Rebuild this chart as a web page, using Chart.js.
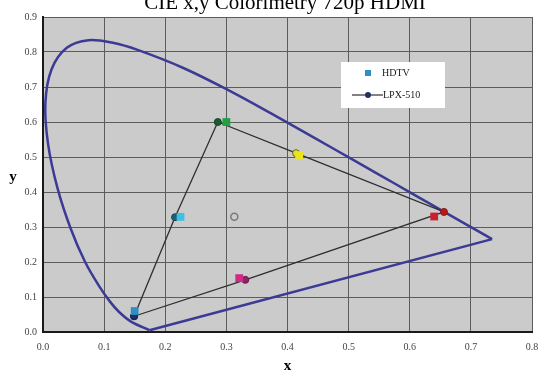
<!DOCTYPE html>
<html>
<head>
<meta charset="utf-8">
<script src="https://cdn.jsdelivr.net/npm/chart.js@4.4.1/dist/chart.umd.min.js"></script>
<style>
  html, body { margin: 0; padding: 0; background: #fff; }
  #wrap { width: 541px; height: 370px; position: relative; }
</style>
</head>
<body>
<div id="wrap"><canvas id="cie" width="541" height="370"></canvas></div>
<script>
// CIE 1931 spectral locus (x, y), 380 nm .. 700 nm
const locusX = [0.1741, 0.1440, 0.1241, 0.1096, 0.0913, 0.0687, 0.0454, 0.0235, 0.0082, 0.0039,
  0.0139, 0.0389, 0.0743, 0.1142, 0.1547, 0.2296, 0.3016, 0.3731, 0.4441, 0.5125,
  0.5752, 0.6270, 0.6915, 0.7190, 0.7347];
const locusY = [0.0050, 0.0297, 0.0578, 0.0868, 0.1327, 0.2007, 0.2950, 0.4127, 0.5384, 0.6548,
  0.7502, 0.8120, 0.8338, 0.8262, 0.8059, 0.7543, 0.6923, 0.6245, 0.5547, 0.4866,
  0.4242, 0.3725, 0.3083, 0.2809, 0.2653];

// primaries / secondaries, in drawing order
const colorNames = ['Blue', 'Cyan', 'Green', 'Yellow', 'Red', 'Magenta'];
const hdtvX = [0.150, 0.225, 0.300, 0.419, 0.640, 0.321];
const hdtvY = [0.060, 0.329, 0.600, 0.505, 0.330, 0.154];
const lpxX = [0.149, 0.216, 0.286, 0.414, 0.656, 0.331];
const lpxY = [0.045, 0.328, 0.600, 0.511, 0.343, 0.149];
const whiteX = [0.313];
const whiteY = [0.329];

const xTicks = [0, 0.1, 0.2, 0.3, 0.4, 0.5, 0.6, 0.7, 0.8];
const yTicks = [0, 0.1, 0.2, 0.3, 0.4, 0.5, 0.6, 0.7, 0.8, 0.9];

// marker colours (per point)
const hdtvColors = ['#2f8fc4', '#3cc0e6', '#21a043', '#ece41e', '#cc1e2c', '#d02a86'];
const lpxFill = ['#1f2f6a', '#1f5f74', '#1c5a30', '#e4dc24', '#b81a1a', '#8c2466'];
const lpxBorder = ['#1a2550', '#1a4a5a', '#174a28', '#6a6420', '#901414', '#6a1a4e'];

const SERIF = '"Liberation Serif", "Times New Roman", serif';
const LOCUS_COLOR = '#3b3b95';

const toPoints = (xs, ys) => xs.map((x, i) => ({ x, y: ys[i] }));

const locusPts = toPoints(locusX, locusY);
const purpleLine = [locusPts[locusPts.length - 1], locusPts[0]];
const lpxPts = toPoints(lpxX, lpxY);
lpxPts.push(lpxPts[0]); // close the gamut triangle

const datasets = [
  {
    label: 'HDTV',
    data: toPoints(hdtvX, hdtvY),
    pointStyle: 'rect',
    pointRadius: 5.5,
    backgroundColor: hdtvColors,
    borderColor: hdtvColors,
    borderWidth: 0,
    showLine: false,
    order: 0,
  },
  {
    label: 'LPX-510',
    data: lpxPts,
    showLine: true,
    borderColor: '#2e2e2e',
    borderWidth: 1.3,
    pointRadius: 3.5,
    pointBackgroundColor: lpxFill.concat([lpxFill[0]]),
    pointBorderColor: lpxBorder.concat([lpxBorder[0]]),
    pointBorderWidth: 1,
    tension: 0,
    order: 1,
  },
  {
    label: 'White',
    data: toPoints(whiteX, whiteY),
    showLine: false,
    pointRadius: 3.5,
    pointBackgroundColor: 'rgba(0,0,0,0)',
    pointBorderColor: '#7a7a7a',
    pointBorderWidth: 1.5,
    order: 2,
  },
  {
    label: 'Spectral locus',
    data: locusPts,
    showLine: true,
    borderColor: LOCUS_COLOR,
    borderWidth: 2.5,
    pointRadius: 0,
    tension: 0.35,
    order: 3,
  },
  {
    label: 'Purple line',
    data: purpleLine,
    showLine: true,
    borderColor: LOCUS_COLOR,
    borderWidth: 2.5,
    pointRadius: 0,
    tension: 0,
    order: 3,
  },
];

// grey plot background
const plotBackground = {
  id: 'plotBackground',
  beforeDraw(chart) {
    const { ctx, chartArea: a } = chart;
    ctx.save();
    ctx.fillStyle = '#fff';
    ctx.fillRect(0, 0, chart.width, chart.height);
    ctx.fillStyle = '#cbcbcb';
    ctx.fillRect(a.left, a.top, a.right - a.left, a.bottom - a.top);
    ctx.restore();
  },
};

// title, axis letters and the boxed legend
const decorations = {
  id: 'decorations',
  afterDraw(chart) {
    const { ctx, chartArea: a } = chart;
    const midX = (a.left + a.right) / 2;
    ctx.save();
    ctx.fillStyle = '#000';
    ctx.textAlign = 'center';
    ctx.textBaseline = 'alphabetic';
    ctx.font = '21px ' + SERIF;
    ctx.fillText('CIE x,y Colorimetry 720p HDMI', 285, 9);

    ctx.font = 'bold 15px ' + SERIF;
    ctx.textBaseline = 'middle';
    ctx.fillText('x', midX, 366);
    ctx.fillText('y', 13, (a.top + a.bottom) / 2 + 3);

    // legend box
    ctx.fillStyle = '#fff';
    ctx.fillRect(341, 62, 104, 46);
    ctx.fillStyle = hdtvColors[0];
    ctx.fillRect(365, 70, 6, 6);
    ctx.strokeStyle = '#2e2e2e';
    ctx.lineWidth = 1.2;
    ctx.beginPath();
    ctx.moveTo(352, 95);
    ctx.lineTo(383, 95);
    ctx.stroke();
    ctx.fillStyle = lpxFill[0];
    ctx.beginPath();
    ctx.arc(368, 95, 3, 0, Math.PI * 2);
    ctx.fill();
    ctx.fillStyle = '#1a1a1a';
    ctx.textAlign = 'left';
    ctx.font = '10px ' + SERIF;
    ctx.fillText('HDTV', 382, 73);
    ctx.fillText('LPX-510', 383, 95);
    ctx.restore();
  },
};

const tickFont = { family: SERIF, size: 10 };

new Chart(document.getElementById('cie'), {
  type: 'scatter',
  data: { datasets },
  options: {
    responsive: false,
    animation: false,
    events: [],
    layout: { padding: { top: 17, right: 9, left: 0, bottom: 0 } },
    plugins: {
      legend: { display: false },
      tooltip: { enabled: false },
      title: { display: false },
    },
    scales: {
      x: {
        type: 'linear',
        min: 0,
        max: 0.8,
        afterBuildTicks(scale) { scale.ticks = xTicks.map((v) => ({ value: v })); },
        afterFit(scale) {
          scale.height = 38;
          scale.paddingLeft = 0;
          scale.paddingRight = 0;
        },
        ticks: { color: '#444', font: tickFont, padding: 9, callback: (v) => Number(v).toFixed(1) },
        grid: { color: '#5c5c5c', lineWidth: 1, drawTicks: false },
        border: { color: '#1a1a1a', width: 2 },
      },
      y: {
        type: 'linear',
        min: 0,
        max: 0.9,
        afterBuildTicks(scale) { scale.ticks = yTicks.map((v) => ({ value: v })); },
        afterFit(scale) {
          scale.width = 43;
          scale.paddingTop = 0;
          scale.paddingBottom = 0;
        },
        ticks: { color: '#444', font: tickFont, padding: 6, callback: (v) => Number(v).toFixed(1) },
        grid: { color: '#5c5c5c', lineWidth: 1, drawTicks: false },
        border: { color: '#1a1a1a', width: 2 },
      },
    },
  },
  plugins: [plotBackground, decorations],
});
</script>
</body>
</html>
